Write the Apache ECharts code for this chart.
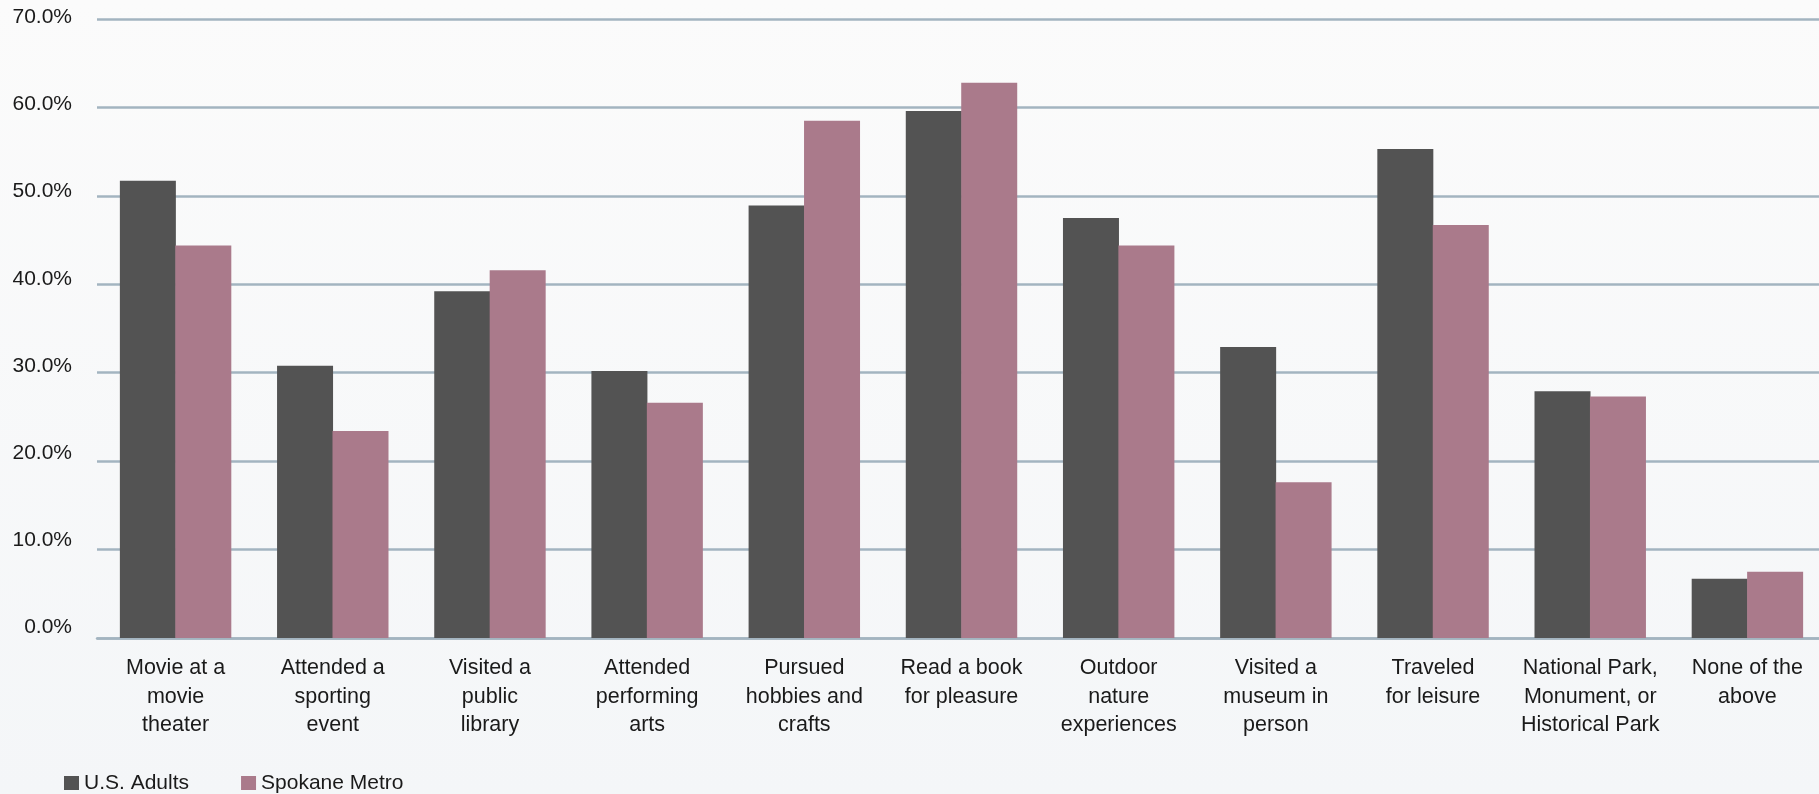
<!DOCTYPE html>
<html>
<head>
<meta charset="utf-8">
<title>Leisure activities: U.S. Adults vs Spokane Metro</title>
<script src="https://cdn.jsdelivr.net/npm/echarts@6/dist/echarts.min.js"></script>
<style>
  html, body { margin: 0; padding: 0; overflow: hidden; }
  /* the plot runs a few pixels past the right edge of the page */
  #chart { width: 1826px; height: 794px; }
</style>
</head>
<body>
<div id="chart"></div>
<script>
// Activity categories (line breaks follow the axis label wrapping)
const categories = [
  'Movie at a\nmovie\ntheater',
  'Attended a\nsporting\nevent',
  'Visited a\npublic\nlibrary',
  'Attended\nperforming\narts',
  'Pursued\nhobbies and\ncrafts',
  'Read a book\nfor pleasure',
  'Outdoor\nnature\nexperiences',
  'Visited a\nmuseum in\nperson',
  'Traveled\nfor leisure',
  'National Park,\nMonument, or\nHistorical Park',
  'None of the\nabove'
];

// Share of respondents, percent
const usAdults     = [51.7, 30.8, 39.2, 30.2, 48.9, 59.6, 47.5, 32.9, 55.3, 27.9, 6.7];
const spokaneMetro = [44.4, 23.4, 41.6, 26.6, 58.5, 62.8, 44.4, 17.6, 46.7, 27.3, 7.5];

// Value axis ticks
const yMin = 0;
const yMax = 70;
const yStep = 10;

const FONT = '"Liberation Sans", Arial, sans-serif';
const TEXT = '#1a1a1a';
const GRID_LINE = '#a3b4c0';

const chart = echarts.init(document.getElementById('chart'), null, { renderer: 'canvas' });

chart.setOption({
  backgroundColor: {
    type: 'linear', x: 0, y: 0, x2: 0, y2: 1,
    colorStops: [
      { offset: 0, color: '#fbfbfb' },
      { offset: 1, color: '#f4f6f8' }
    ]
  },
  animation: false,
  textStyle: { fontFamily: FONT },
  grid: [
    // plot area with the bars and gridlines
    { left: 97, top: 19, right: 0, height: 619, containLabel: false },
    // tick label column, spaced a little tighter than the gridlines
    { left: 97, top: 17.5, right: 0, height: 609.5, containLabel: false }
  ],
  legend: {
    left: 64,
    top: 771,
    padding: 0,
    itemWidth: 15,
    itemHeight: 14,
    itemGap: 52,
    icon: 'rect',
    textStyle: { fontFamily: FONT, fontSize: 21, color: TEXT, lineHeight: 24 },
    data: ['U.S. Adults', 'Spokane Metro']
  },
  xAxis: [
    {
      type: 'category',
      gridIndex: 0,
      data: categories,
      axisLine: { show: true, lineStyle: { color: GRID_LINE, width: 2.5 } },
      axisTick: { show: false },
      splitLine: { show: false },
      axisLabel: {
        interval: 0,
        margin: 16,
        fontFamily: FONT,
        fontSize: 21.5,
        lineHeight: 28.5,
        color: TEXT,
        align: 'center'
      }
    },
    {
      type: 'category',
      gridIndex: 1,
      data: categories,
      show: false
    }
  ],
  yAxis: [
    {
      type: 'value',
      gridIndex: 0,
      min: yMin,
      max: yMax,
      interval: yStep,
      axisLine: { show: false },
      axisTick: { show: false },
      axisLabel: { show: false },
      splitLine: { show: true, lineStyle: { color: GRID_LINE, width: 2.5 } }
    },
    {
      type: 'value',
      gridIndex: 1,
      min: yMin,
      max: yMax,
      interval: yStep,
      axisLine: { show: false },
      axisTick: { show: false },
      splitLine: { show: false },
      axisLabel: {
        margin: 25,
        fontFamily: FONT,
        fontSize: 21,
        color: TEXT,
        formatter: v => v.toFixed(1) + '%'
      }
    }
  ],
  series: [
    {
      name: 'U.S. Adults',
      type: 'bar',
      xAxisIndex: 0,
      yAxisIndex: 0,
      data: usAdults,
      barWidth: 56,
      barGap: '-1%',
      itemStyle: { color: '#535353' }
    },
    {
      name: 'Spokane Metro',
      type: 'bar',
      xAxisIndex: 0,
      yAxisIndex: 0,
      data: spokaneMetro,
      barWidth: 56,
      barGap: '-1%',
      itemStyle: { color: '#aa7a8b' }
    }
  ]
});
</script>
</body>
</html>
